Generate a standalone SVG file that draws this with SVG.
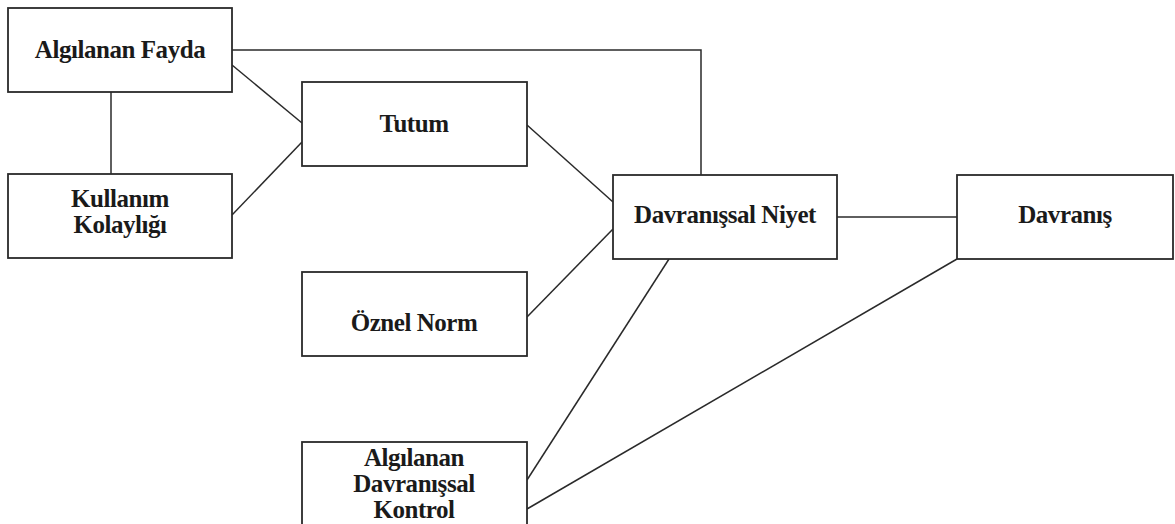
<svg xmlns="http://www.w3.org/2000/svg" width="1175" height="524" viewBox="0 0 1175 524">
  <style>
    .box { fill: #ffffff; stroke: #2a2a2a; stroke-width: 1.8; }
    .lbl { font-family: "Liberation Serif", "Times New Roman", serif; font-weight: bold; font-size: 25px; letter-spacing: -0.45px; fill: #1a1a1a; text-anchor: middle; }
    .conn { fill: none; stroke: #2a2a2a; stroke-width: 1.5; }
  </style>
  <rect width="1175" height="524" fill="#ffffff"/>

  <g id="connectors">
    <line class="conn" x1="111" y1="92" x2="111" y2="174"/>
    <line class="conn" x1="232" y1="65" x2="302" y2="123"/>
    <line class="conn" x1="232" y1="215" x2="302" y2="142"/>
    <polyline class="conn" points="232,50 701,50 701,175"/>
    <line class="conn" x1="527" y1="125" x2="613" y2="202"/>
    <line class="conn" x1="527" y1="317" x2="613" y2="229"/>
    <line class="conn" x1="527" y1="480" x2="669" y2="259"/>
    <line class="conn" x1="527" y1="509" x2="957" y2="259"/>
    <line class="conn" x1="837" y1="217" x2="957" y2="217"/>
  </g>

  <g id="algilanan-fayda">
    <rect class="box" x="8" y="8" width="224" height="84"/>
    <text class="lbl" x="120" y="58">Algılanan Fayda</text>
  </g>

  <g id="kullanim-kolayligi">
    <rect class="box" x="8" y="174" width="224" height="84"/>
    <text class="lbl" x="120" y="207">Kullanım</text>
    <text class="lbl" x="120" y="233">Kolaylığı</text>
  </g>

  <g id="tutum">
    <rect class="box" x="302" y="82" width="225" height="84"/>
    <text class="lbl" x="414" y="132">Tutum</text>
  </g>

  <g id="oznel-norm">
    <rect class="box" x="302" y="272" width="225" height="84"/>
    <text class="lbl" x="414" y="331">Öznel Norm</text>
  </g>

  <g id="algilanan-davranissal-kontrol">
    <rect class="box" x="302" y="442" width="225" height="90"/>
    <text class="lbl" x="414" y="466">Algılanan</text>
    <text class="lbl" x="414" y="492">Davranışsal</text>
    <text class="lbl" x="414" y="518">Kontrol</text>
  </g>

  <g id="davranissal-niyet">
    <rect class="box" x="613" y="175" width="224" height="84"/>
    <text class="lbl" x="725" y="223">Davranışsal Niyet</text>
  </g>

  <g id="davranis">
    <rect class="box" x="957" y="175" width="216" height="84"/>
    <text class="lbl" x="1065" y="223">Davranış</text>
  </g>
</svg>
